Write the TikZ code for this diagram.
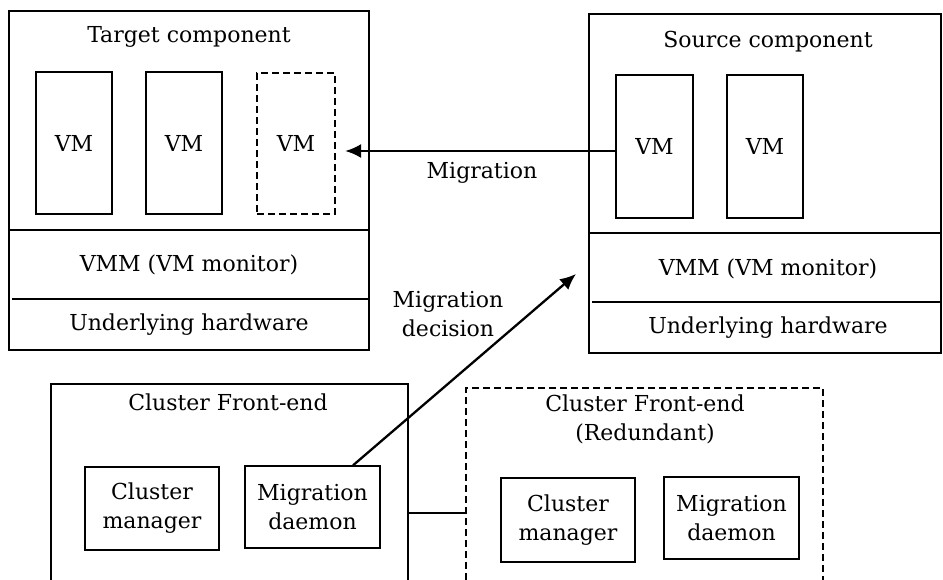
\documentclass[tikz,border=0pt]{standalone}
\usepackage{fontspec}
\setmainfont{DejaVu Serif}
\usetikzlibrary{arrows.meta}
\begin{document}
\begin{tikzpicture}[x=1pt,y=-1pt,
  every node/.style={font=\fontsize{22}{29}\selectfont},
  box/.style={draw,line width=1.3pt,inner sep=0pt,align=center},
  dbox/.style={box,dash pattern=on 7pt off 4pt},
  lbl/.style={inner sep=0pt,align=center},
  sep/.style={line width=1.3pt},
  arr/.style={line width=2.6pt,-{Latex[length=16pt,width=14pt]}}]
\clip (0,0) rectangle (943,579);
% Target component
\node[box,minimum width=360,minimum height=339] (tc) at (189,180.5) {};
\draw[sep] (tc.west |- 0,230) -- (tc.east |- 0,230);
\draw[sep] (12,299) -- (370,299);
\node[lbl] (tct) at (189,37) {Target component};
\node[box,minimum width=76,minimum height=142] (tvm1) at (74,143) {VM};
\node[box,minimum width=76,minimum height=142] (tvm2) at (184,143) {VM};
\node[dbox,minimum width=78,minimum height=141] (tvm3) at (296,143.5) {VM};
\node[lbl] (tvmm) at (189,265) {VMM (VM monitor)};
\node[lbl] (thw) at (189,325) {Underlying hardware};
% Source component
\node[box,minimum width=352,minimum height=339] (sc) at (765,183.5) {};
\draw[sep] (sc.west |- 0,233) -- (sc.east |- 0,233);
\draw[sep] (592,302) -- (sc.east |- 0,302);
\node[lbl] (sct) at (768,42) {Source component};
\node[box,minimum width=77,minimum height=143] (svm1) at (654.5,146.5) {VM};
\node[box,minimum width=76,minimum height=143] (svm2) at (765,146.5) {VM};
\node[lbl] (svmm) at (768,269) {VMM (VM monitor)};
\node[lbl] (shw) at (768,328) {Underlying hardware};
% Migration arrow
\coordinate (mtip) at (345,151);
\draw[arr] (svm1.west |- mtip) -- (mtip);
\node[lbl] (ml) at (482,173) {Migration};
% Cluster front-end
\node[box,minimum width=357,minimum height=216] (cfe) at (229.5,492) {};
\node[lbl] (cfet) at (228,402) {Cluster Front-end};
\node[box,minimum width=134,minimum height=83] (cm) at (152,508.5) {Cluster\\manager};
\node[box,minimum width=135,minimum height=82] (md) at (312.5,507) {Migration\\daemon};
% Redundant front-end
\node[dbox,minimum width=357,minimum height=212] (rfe) at (644.5,494) {};
\node[lbl] (rfet) at (645,419) {Cluster Front-end\\(Redundant)};
\node[box,minimum width=134,minimum height=84] (rcm) at (568,520) {Cluster\\manager};
\node[box,minimum width=135,minimum height=82] (rmd) at (731.5,518) {Migration\\daemon};
\draw[sep] (cfe.east |- 0,513) -- (rfe.west |- 0,513);
% Migration decision arrow
\coordinate (dtip) at (576,274);
\draw[arr,line width=2.3pt] ([xshift=40.5pt]md.north) -- (dtip);
\node[lbl] (mdl) at (448,314) {Migration\\decision};
\end{tikzpicture}
\end{document}
